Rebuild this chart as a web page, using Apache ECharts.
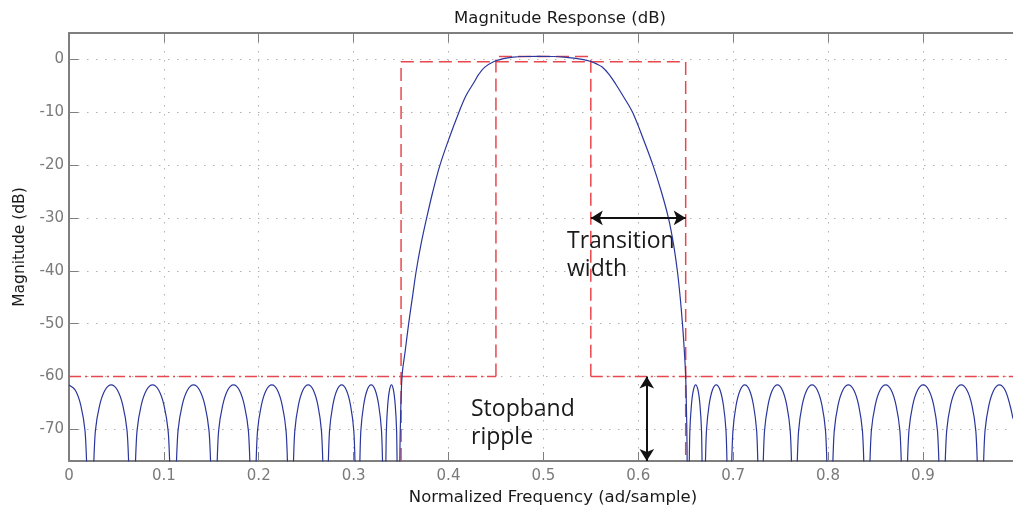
<!DOCTYPE html>
<html>
<head>
<meta charset="utf-8">
<title>Magnitude Response (dB)</title>
<script src="https://cdn.jsdelivr.net/npm/echarts@6/dist/echarts.min.js"></script>
<style>
  html, body { margin: 0; padding: 0; background: #fff; }
  #chart { width: 1013px; height: 509px; }
</style>
</head>
<body>
<div id="chart"></div>
<script>
// stopband lobes: same dB levels for every lobe, x positions read per lobe
const lobeLevels = [-82, -70.3, -65.5, -62.6, -61.6, -62.6, -65.5, -70.3, -82];

const edgeLeftX = [0, 0.0067, 0.0125, 0.0169, 0.0209];
const edgeLeftY = [-61.6, -62.6, -65.5, -70.3, -82];

const leftLobesX = [
  [0.0238, 0.0278, 0.0322, 0.0379, 0.0445, 0.0511, 0.0568, 0.0612, 0.0652],
  [0.0678, 0.0717, 0.0760, 0.0816, 0.0881, 0.0946, 0.1002, 0.1045, 0.1084],
  [0.1110, 0.1149, 0.1192, 0.1248, 0.1313, 0.1377, 0.1433, 0.1476, 0.1515],
  [0.1540, 0.1577, 0.1619, 0.1672, 0.1734, 0.1796, 0.1849, 0.1891, 0.1928],
  [0.1952, 0.1987, 0.2027, 0.2078, 0.2138, 0.2197, 0.2248, 0.2288, 0.2323],
  [0.2346, 0.2380, 0.2417, 0.2465, 0.2521, 0.2576, 0.2624, 0.2661, 0.2695],
  [0.2716, 0.2746, 0.2780, 0.2824, 0.2874, 0.2924, 0.2968, 0.3002, 0.3032],
  [0.3051, 0.3076, 0.3105, 0.3142, 0.3185, 0.3228, 0.3265, 0.3294, 0.3319],
  [0.3332, 0.3345, 0.3359, 0.3378, 0.3399, 0.3420, 0.3439, 0.3453, 0.3466]
];

const mainLobeX = [0.3478, 0.3492, 0.351, 0.3545, 0.358, 0.362, 0.366, 0.371, 0.377, 0.3835,
  0.391, 0.4005, 0.411, 0.418, 0.426, 0.432, 0.438, 0.448, 0.458, 0.468, 0.48, 0.495, 0.51,
  0.522, 0.532, 0.541, 0.55, 0.556, 0.562, 0.569, 0.576, 0.585, 0.594, 0.6052, 0.6155, 0.6243,
  0.6318, 0.6372, 0.6412, 0.6442, 0.6466, 0.6485, 0.65, 0.6512, 0.6522];
const mainLobeY = [-82, -70, -60, -55, -50, -45, -40, -35, -30, -25,
  -20, -15, -10, -7, -4.6, -2.8, -1.5, -0.4, 0.15, 0.42, 0.55, 0.58, 0.55,
  0.45, 0.25, 0, -0.4, -0.85, -1.45, -2.8, -4.6, -7.2, -10, -15, -20, -25,
  -30, -35, -40, -45, -50, -55, -60, -70, -82];

const rightLobesX = [
  [0.6530, 0.6544, 0.6560, 0.6581, 0.6605, 0.6630, 0.6651, 0.6667, 0.6681],
  [0.6694, 0.6719, 0.6746, 0.6781, 0.6822, 0.6863, 0.6898, 0.6925, 0.6950],
  [0.6968, 0.6998, 0.7031, 0.7074, 0.7123, 0.7173, 0.7215, 0.7248, 0.7278],
  [0.7299, 0.7331, 0.7367, 0.7413, 0.7467, 0.7520, 0.7566, 0.7602, 0.7634],
  [0.7656, 0.7690, 0.7727, 0.7776, 0.7832, 0.7888, 0.7937, 0.7974, 0.8008],
  [0.8031, 0.8066, 0.8105, 0.8156, 0.8215, 0.8273, 0.8324, 0.8363, 0.8398],
  [0.8422, 0.8457, 0.8497, 0.8548, 0.8608, 0.8667, 0.8718, 0.8758, 0.8793],
  [0.8817, 0.8853, 0.8892, 0.8944, 0.9004, 0.9063, 0.9115, 0.9154, 0.9190],
  [0.9214, 0.9251, 0.9291, 0.9344, 0.9405, 0.9465, 0.9518, 0.9558, 0.9595]
];

const edgeRightX = [0.9619, 0.9655, 0.9695, 0.9747, 0.9807, 0.9867, 0.9919, 0.995];
const edgeRightY = [-82, -70.3, -65.5, -62.6, -61.6, -62.6, -65.5, -68];

// design mask (red)
const stopLine1 = [[0, -60], [0.45, -60]];
const stopLine2 = [[0.55, -60], [0.995, -60]];
const outerMask = [[0.35, -76], [0.35, -0.45], [0.65, -0.45], [0.65, -76]];
const innerMask = [[0.45, -60], [0.45, 0.55], [0.55, 0.55], [0.55, -60]];

// annotation arrows
const transitionArrow = [[0.55, -30], [0.65, -30]];
const rippleArrow = [[0.609, -60], [0.609, -76]];

function zip(xs, ys) {
  return xs.map((x, i) => [x, ys[i]]);
}

function buildResponse() {
  let pts = zip(edgeLeftX, edgeLeftY);
  leftLobesX.forEach(xs => { pts = pts.concat(zip(xs, lobeLevels)); });
  pts = pts.concat(zip(mainLobeX, mainLobeY));
  rightLobesX.forEach(xs => { pts = pts.concat(zip(xs, lobeLevels)); });
  pts = pts.concat(zip(edgeRightX, edgeRightY));
  return pts;
}

function creatChart() {
  const chart = echarts.init(document.getElementById('chart'));
  const axisGray = '#7f7f7f';
  const red = '#e8474d';
  const font = 'DejaVu Sans';
  const arrowLine = (pair) => [{ coord: pair[0] }, { coord: pair[1] }];

  const option = {
    animation: false,
    backgroundColor: '#fff',
    title: {
      text: 'Magnitude Response (dB)',
      left: 555,
      top: 5,
      textAlign: 'center',
      textStyle: { fontFamily: font, fontSize: 16.5, fontWeight: 'normal', color: '#1a1a1a' }
    },
    grid: { left: 69, right: 0, top: 33, bottom: 48, containLabel: false, outerBoundsMode: 'none' },
    xAxis: [
      {
        type: 'value', min: 0, max: 0.995, splitNumber: 10, position: 'bottom',
        name: 'Normalized Frequency (ad/sample)',
        nameLocation: 'middle', nameGap: 26,
        nameTextStyle: { fontFamily: font, fontSize: 16.5, color: '#1a1a1a', padding: [0, 0, 0, 24] },
        axisLine: { show: true, onZero: false, lineStyle: { color: axisGray, width: 2 } },
        axisTick: { show: true, inside: true, length: 9, lineStyle: { color: axisGray } },
        axisLabel: { color: '#7a7a7a', fontFamily: font, fontSize: 15, margin: 8, showMaxLabel: false },
        splitLine: { show: true, lineStyle: { color: '#b0b0b0', type: [1.5, 7.5] } }
      },
      {
        type: 'value', min: 0, max: 0.995, splitNumber: 10, position: 'top',
        axisLine: { show: true, onZero: false, lineStyle: { color: axisGray, width: 2 } },
        axisTick: { show: true, inside: true, length: 9, lineStyle: { color: axisGray } },
        axisLabel: { show: false },
        splitLine: { show: false }
      }
    ],
    yAxis: {
      type: 'value', min: -76, max: 5, splitNumber: 8,
      name: 'Magnitude (dB)',
      nameLocation: 'middle', nameGap: 41,
      nameTextStyle: { fontFamily: font, fontSize: 15.5, color: '#1a1a1a' },
      axisLine: { show: true, onZero: false, lineStyle: { color: axisGray, width: 2 } },
      axisTick: { show: true, inside: true, length: 9, lineStyle: { color: axisGray } },
      axisLabel: { color: '#7a7a7a', fontFamily: font, fontSize: 15, margin: 5, showMinLabel: false, showMaxLabel: false },
      splitLine: { show: true, lineStyle: { color: '#b0b0b0', type: [1.5, 7.5] } }
    },
    series: [
      {
        name: 'stop1', type: 'line', data: stopLine1, symbol: 'none', silent: true,
        lineStyle: { color: red, width: 1.5, type: [12, 4, 2, 4] }
      },
      {
        name: 'stop2', type: 'line', data: stopLine2, symbol: 'none', silent: true,
        lineStyle: { color: red, width: 1.5, type: [12, 4, 2, 4] }
      },
      {
        name: 'outer', type: 'line', data: outerMask, symbol: 'none', silent: true,
        lineStyle: { color: red, width: 1.5, type: [13, 6] }
      },
      {
        name: 'inner', type: 'line', data: innerMask, symbol: 'none', silent: true,
        lineStyle: { color: red, width: 1.5, type: [13, 6] }
      },
      {
        name: 'response', type: 'line', data: buildResponse(), symbol: 'none',
        smooth: 0.35, clip: true,
        lineStyle: { color: '#2a369c', width: 1.2 },
        markLine: {
          silent: true, symbol: ['arrow', 'arrow'], symbolSize: [11, 12],
          label: { show: false },
          lineStyle: { color: '#111', width: 2, type: 'solid' },
          data: [arrowLine(transitionArrow), arrowLine(rippleArrow)]
        }
      }
    ],
    graphic: [
      {
        type: 'text', left: 567, top: 227,
        style: { text: 'Transition\nwidth', font: '23px "Open Sans"', lineHeight: 28.5, fill: '#1a1a1a' }
      },
      {
        type: 'text', left: 471, top: 395,
        style: { text: 'Stopband\nripple', font: '23px "Open Sans"', lineHeight: 28.5, fill: '#1a1a1a' }
      }
    ]
  };
  chart.setOption(option);
}

window.onload = function () {
  creatChart();
};
</script>
</body>
</html>
